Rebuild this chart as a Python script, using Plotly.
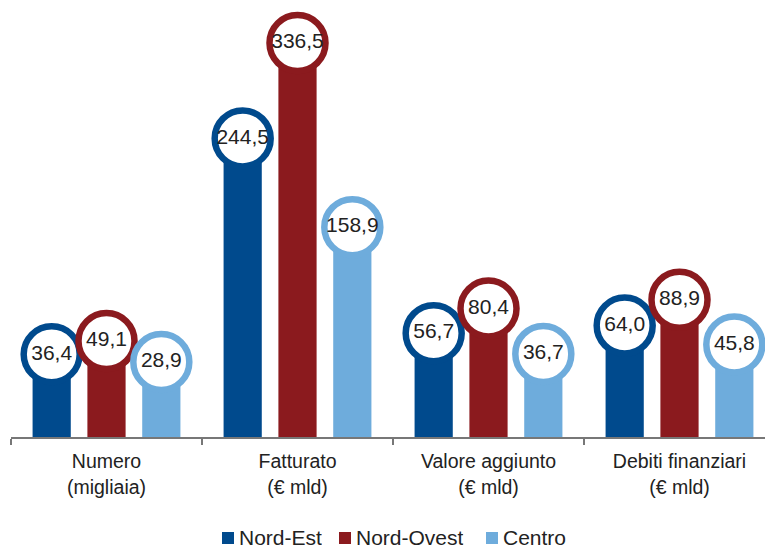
import plotly.graph_objects as go

# Categories (two-line labels) and series values
categories = ["Numero<br>(migliaia)", "Fatturato<br>(€ mld)",
              "Valore aggiunto<br>(€ mld)", "Debiti finanziari<br>(€ mld)"]
series_names = ["Nord-Est", "Nord-Ovest", "Centro"]
nord_est = [36.4, 244.5, 56.7, 64.0]
nord_ovest = [49.1, 336.5, 80.4, 88.9]
centro = [28.9, 158.9, 36.7, 45.8]
value_labels = {
    "Nord-Est": ["36,4", "244,5", "56,7", "64,0"],
    "Nord-Ovest": ["49,1", "336,5", "80,4", "88,9"],
    "Centro": ["28,9", "158,9", "36,7", "45,8"],
}

colors = {"Nord-Est": "#004a8d", "Nord-Ovest": "#8b1a1e", "Centro": "#6eacdc"}
offsets = {"Nord-Est": -0.287, "Nord-Ovest": 0.0, "Centro": 0.287}
BAR_WIDTH = 0.2
AXIS_FLOOR = -43.4   # value at which the category axis line sits
AXIS_TOP = 378.0
FONT = "Liberation Sans, Arial, sans-serif"

# Figure geometry (pixels)
W, H = 765, 547
M_L, M_B = 11, 110
PLOT_W, PLOT_H = W - M_L, H - M_B

fig = go.Figure()
data = {"Nord-Est": nord_est, "Nord-Ovest": nord_ovest, "Centro": centro}
idx = list(range(len(categories)))

for name in series_names:
    vals = data[name]
    xs = [i + offsets[name] for i in idx]
    fig.add_trace(go.Bar(
        x=xs, y=[v - AXIS_FLOOR for v in vals], base=AXIS_FLOOR,
        width=BAR_WIDTH, name=name,
        marker=dict(color=colors[name], line=dict(width=0)),
        hoverinfo="skip", showlegend=False,
    ))

for name in series_names:
    vals = data[name]
    xs = [i + offsets[name] for i in idx]
    fig.add_trace(go.Scatter(
        x=xs, y=vals, mode="markers+text",
        text=value_labels[name], textposition="middle center",
        textfont=dict(family=FONT, size=21, color="#222222"),
        marker=dict(size=56, color="white",
                    line=dict(color=colors[name], width=6.5)),
        showlegend=False, cliponaxis=False, hoverinfo="skip",
    ))

fig.add_annotation(
    text="<b>2013</b>", xref="paper", yref="paper", x=0, y=1,
    xanchor="left", yanchor="bottom", xshift=-11, yshift=-6,
    showarrow=False, font=dict(family=FONT, size=22, color="#2a6fb5"),
)

# Legend row below the chart: colour key square + series name
legend_left_px = {"Nord-Est": 222, "Nord-Ovest": 339, "Centro": 486}
LEGEND_CENTER_Y = 537
KEY = 12
for name in series_names:
    px = legend_left_px[name]
    xk = (px - M_L) / PLOT_W
    yk = (PLOT_H - LEGEND_CENTER_Y) / PLOT_H
    fig.add_shape(
        type="rect", xref="paper", yref="paper",
        xsizemode="pixel", ysizemode="pixel",
        xanchor=xk, yanchor=yk,
        x0=0, x1=KEY, y0=-KEY / 2 - 1, y1=KEY / 2 - 1,
        fillcolor=colors[name], line=dict(width=0),
    )
    fig.add_annotation(
        text=name, xref="paper", yref="paper",
        x=(px + KEY + 4 - M_L) / PLOT_W, y=yk,
        xanchor="left", yanchor="middle", showarrow=False,
        height=18, valign="middle", borderpad=0,
        font=dict(family=FONT, size=21, color="#222222"),
    )

fig.update_layout(
    width=W, height=H,
    margin=dict(l=M_L, r=0, t=0, b=M_B),
    paper_bgcolor="white", plot_bgcolor="white",
    barmode="overlay",
    showlegend=False,
    xaxis=dict(
        range=[-0.5, -0.5 + PLOT_W / 191.0],
        tickvals=idx, ticktext=categories, ticks="",
        tickfont=dict(family=FONT, size=19.5, color="#222222"),
        showline=True, linecolor="#777777", linewidth=1.5,
        showgrid=False, zeroline=False, ticklabelstandoff=6,
        minor=dict(tickvals=[-0.5, 0.5, 1.5, 2.5], ticks="outside",
                   ticklen=6, tickcolor="#777777", tickwidth=1.5, showgrid=False),
    ),
    yaxis=dict(range=[AXIS_FLOOR, AXIS_TOP], visible=False,
               showgrid=False, zeroline=False),
)

fig.write_html("out.html")
